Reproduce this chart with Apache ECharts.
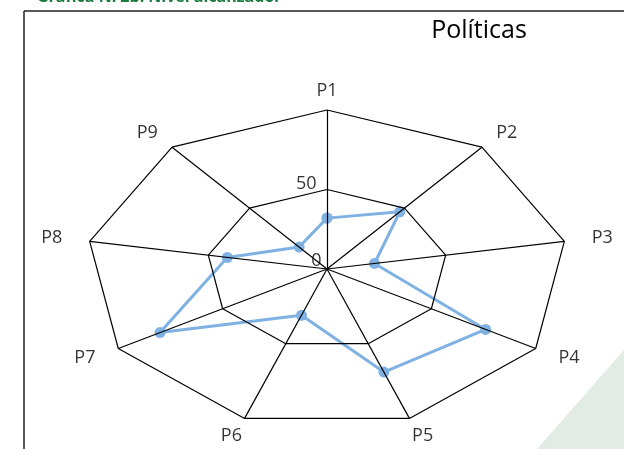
<!DOCTYPE html>
<html>
<head>
<meta charset="utf-8">
<script src="https://cdn.jsdelivr.net/npm/echarts@6/dist/echarts.min.js"></script>
<style>
  html, body { margin: 0; padding: 0; background: #fff; }
  #chart { width: 624px; height: 449px; }
</style>
</head>
<body>
<div id="chart"></div>
<script>
  // datos de la gráfica
  var indicators = ['P1', 'P2', 'P3', 'P4', 'P5', 'P6', 'P7', 'P8', 'P9'];
  var scores = [32, 47, 20, 76, 69, 31, 80, 42, 18];
  var ringLevels = [50, 100];
  var tickValues = [0, 50];
  var tickLabels = ['0', '50'];
  var maxValue = 100;

  // pasa (indice, valor) a coordenadas del plano
  function toXY(i, v) {
    var a = i * 2 * Math.PI / indicators.length;
    return [v * Math.sin(a), v * Math.cos(a)];
  }

  var chart = echarts.init(document.getElementById('chart'));

  var ringSeries = ringLevels.map(function (lv) {
    var pts = indicators.map(function (n, i) { return toXY(i, lv); });
    pts.push(pts[0]);
    return {
      type: 'line', data: pts, symbol: 'none', silent: true, clip: false, z: 5,
      lineStyle: { color: '#000', width: 1.2 }
    };
  });

  var spokes = indicators.map(function (n, i) {
    return { coords: [[0, 0], toXY(i, maxValue)] };
  });

  var scorePts = scores.map(function (v, i) { return toXY(i, v); });
  scorePts.push(scorePts[0]);

  var namePts = indicators.map(function (n, i) {
    var p = toXY(i, maxValue);
    return { value: [p[0] * 1.16, p[1] * 1.12], name: n };
  });

  var option = {
    animation: false,
    grid: { left: 86, top: 110, width: 482, height: 318 },
    xAxis: { type: 'value', min: -maxValue, max: maxValue, show: false },
    yAxis: { type: 'value', min: -maxValue, max: maxValue, show: false },
    graphic: [
      { type: 'polygon', z: -10, shape: { points: [[624, 350], [537, 449], [624, 449]] },
        style: { fill: '#e2ebe5' } },
      { type: 'line', shape: { x1: 24, y1: 11, x2: 624, y2: 11 },
        style: { stroke: '#222', lineWidth: 1.5 } },
      { type: 'line', shape: { x1: 24, y1: 11, x2: 24, y2: 449 },
        style: { stroke: '#222', lineWidth: 1.5 } },
      { type: 'text', x: 37, y: 5,
        style: { text: 'Gráfica N. 2b. Nivel alcanzado.', fill: '#1c7a3f',
                 font: 'bold 16px "Open Sans"', textVerticalAlign: 'bottom' } },
      { type: 'text', x: 479, y: 31,
        style: { text: 'Políticas', fill: '#000', font: '25px "Open Sans"',
                 textAlign: 'center', textVerticalAlign: 'middle' } }
    ],
    series: [
      {
        type: 'line', data: scorePts, clip: false, z: 2,
        symbol: 'circle', symbolSize: 11,
        itemStyle: { color: '#7fb1e2' },
        lineStyle: { color: '#7fb1e2', width: 3 }
      }
    ].concat(ringSeries).concat([
      {
        type: 'lines', coordinateSystem: 'cartesian2d', data: spokes, silent: true, z: 5,
        lineStyle: { color: '#000', width: 1.2, opacity: 1 }
      },
      {
        type: 'scatter', data: namePts, symbolSize: 1, clip: false, silent: true,
        itemStyle: { color: 'rgba(0,0,0,0)' },
        label: { show: true, position: 'inside', formatter: '{b}', color: '#000',
                 fontFamily: 'Open Sans', fontSize: 18 }
      },
      {
        type: 'scatter', symbolSize: 1, clip: false, silent: true,
        itemStyle: { color: 'rgba(0,0,0,0)' },
        data: tickValues.map(function (v, k) {
          return { value: [0, v], name: tickLabels[k],
                   label: { distance: k === 0 ? 5 : 10, offset: [0, k === 0 ? -8 : -6] } };
        }),
        label: { show: true, position: 'left', formatter: '{b}', color: '#000',
                 fontFamily: 'Open Sans', fontSize: 18 }
      }
    ])
  };

  chart.setOption(option);
</script>
</body>
</html>
